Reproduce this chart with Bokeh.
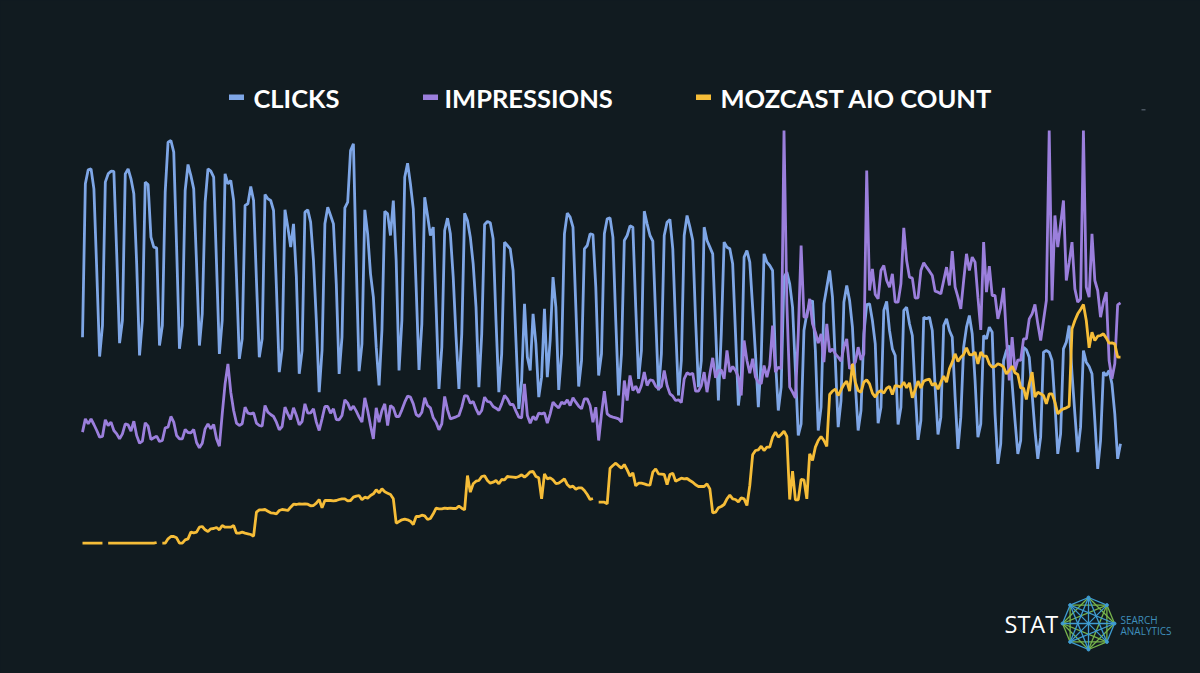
import numpy as np
from bokeh.plotting import figure
from bokeh.models import Range1d, Label, BoxAnnotation
from bokeh.embed import file_html
from bokeh.resources import INLINE

gap = float("nan")

# The chart has no value axis: values are read off the picture as depth below a
# fixed level (larger = lower on the plot), so the value range below is inverted.
clicks = [650,190,148,145,205,450,708,
615,185,160,152,153,400,668,
600,160,145,175,220,430,705,
600,185,192,350,380,382,675,
615,215,65,60,95,380,685,
615,210,132,165,205,430,675,
580,245,145,152,170,430,700,
600,160,190,180,240,470,715,
655,255,250,198,240,480,710,
655,222,235,240,270,500,755,
685,268,320,380,310,470,760,
690,275,268,305,420,600,815,
690,310,260,285,310,490,760,
650,262,245,90,70,430,752,
670,268,340,460,530,680,795,
630,272,280,345,240,420,750,
600,170,128,190,265,500,748,
610,230,285,345,320,560,805,
680,330,293,340,470,650,805,
640,278,300,350,430,560,800,
640,312,303,307,355,600,815,
700,365,375,385,450,660,865,
780,550,710,750,580,670,830,
770,565,770,660,470,560,808,
700,340,278,290,320,560,798,
720,385,375,340,342,500,765,
700,340,295,292,350,600,825,
700,360,345,316,320,560,775,
690,272,310,345,362,590,810,
700,345,305,297,385,620,825,
720,345,285,320,360,600,800,
720,320,360,380,400,620,840,
640,365,380,385,430,640,855,
780,410,390,425,560,700,860,
720,400,425,435,450,720,870,
800,470,455,490,560,750,945,
910,630,580,550,540,690,930,
860,550,500,450,530,720,920,
840,545,495,540,620,790,930,
870,640,552,550,600,670,908,
860,570,543,630,685,705,912,
860,570,560,610,645,810,958,
900,590,595,590,630,800,942,
890,615,595,630,650,830,985,
890,680,620,585,640,780,950,
910,645,655,620,635,880,1030,
970,720,690,675,790,900,1000,
960,680,688,710,820,930,1015,
950,695,690,695,720,850,1000,
940,685,665,615,760,880,995,
920,690,725,738,760,900,1045,
960,755,765,750,790,880,1015,
970]

impressions = [935,895,910,895,912,930,950,948,898,915,905,930,940,955,
940,910,913,932,902,945,968,962,907,917,957,952,947,963,
960,922,920,888,905,945,955,955,927,936,937,927,966,982,
968,925,910,925,912,955,977,880,790,730,815,870,908,915,
910,860,878,880,877,908,915,917,855,875,882,888,905,928,
918,860,880,897,862,885,913,903,850,878,877,865,905,930,
895,858,858,878,865,897,898,
885,838,848,868,857,872,890,905,832,870,915,955,862,905,
870,850,915,855,862,888,888,868,845,827,830,850,882,888,
875,832,855,862,892,905,928,910,828,868,895,892,889,885,
860,825,827,848,843,865,882,870,830,843,845,858,863,870,
850,825,835,852,852,872,890,892,790,885,908,888,898,878,
880,877,908,880,845,855,862,845,850,838,855,832,845,857,
865,835,835,855,905,860,960,
880,812,880,887,890,892,895,905,780,840,765,810,797,817,
795,755,795,778,780,797,805,798,750,795,820,827,840,838,
846,775,757,762,758,812,812,795,755,815,760,712,772,750,
748,775,690,755,738,750,770,825,660,720,758,715,770,785,
790,735,770,735,615,755,740,745,30,550,800,815,832,640,
375,590,590,535,610,635,668,640,725,610,695,685,700,710,
722,680,655,745,735,725,680,
718,700,150,510,445,522,535,450,435,480,500,460,545,545,
490,322,420,470,473,533,532,450,427,440,452,465,512,515,
520,480,440,495,392,500,530,565,480,400,450,410,425,530,
628,365,515,437,525,525,595,560,502,650,780,650,750,718,
720,655,655,595,580,552,610,660,600,540,30,540,285,380,
310,240,480,425,365,505,545,535,30,500,530,340,480,510,
590,545,515,720,775,730,553,547]

mozcast_aio = [1268,1268,1268,1268,1268,1268,1268,1268,gap,1268,1268,1268,1268,1268,
1268,1268,1268,1268,1268,1268,1268,1268,1268,1268,1268,1268,1266,gap,
1268,1268,1255,1248,1248,1252,1268,1268,1258,1255,1235,1237,1235,1220,
1218,1228,1233,1225,1224,1221,1228,1215,1220,1220,1220,1215,1238,1238,
1235,1238,1240,1242,1247,1175,1168,1168,1167,1172,1177,1178,1180,1170,
1167,1168,1170,1160,1151,1152,1150,1151,1150,1151,1156,1155,1148,1137,
1162,1140,1140,1140,1141,1140,1137,
1135,1135,1141,1140,1130,1127,1125,1138,1130,1133,1125,1120,1108,1117,
1105,1114,1118,1122,1135,1208,1203,1198,1196,1198,1202,1212,1188,1188,
1184,1186,1197,1194,1180,1163,1165,1165,1163,1164,1163,1164,1164,1157,
1163,1168,1065,1115,1090,1082,1080,1068,1066,1080,1088,1085,1080,1090,
1077,1078,1068,1069,1070,1071,1068,1063,1070,1063,1054,1053,1068,1072,
1135,1060,1075,1072,1078,1089,1088,1082,1075,1092,1100,1097,1106,1102,
1102,1110,1122,1137,1134,gap,1145,
1145,1145,1150,1043,1035,1028,1036,1043,1032,1048,1067,1057,1096,1088,
1088,1090,1093,1094,1055,1045,1060,1061,1062,1092,1062,1058,1082,1078,
1073,1075,1074,1080,1085,1093,1098,1098,1098,1090,1105,1177,1175,1162,
1158,1152,1135,1124,1135,1137,1144,1132,1135,1155,1095,1003,990,988,
977,990,980,980,950,935,950,942,932,948,1137,1052,1138,1138,
1077,1078,1135,1000,1020,980,960,948,960,978,822,812,806,825,
808,792,782,812,730,785,810,
815,785,778,790,818,830,815,810,818,803,798,822,795,797,
800,785,802,787,832,808,782,802,782,778,776,795,788,806,
785,767,785,745,725,700,723,710,702,682,702,703,695,730,
695,707,707,730,740,738,730,733,740,760,750,737,757,762,
802,803,837,790,755,830,815,820,825,850,820,820,845,880,
870,865,862,857,625,600,580,567,552,600,682,635,660,647,
645,640,652,668,667,670,710,710]

legend_labels = ["CLICKS", "IMPRESSIONS", "MOZCAST AIO COUNT"]
series_colors = ["#7ea6e6", "#9b7fdc", "#f6bd38"]
logo_word = "STAT"
logo_sub = ["SEARCH", "ANALYTICS"]

assert len(clicks) == len(impressions) == len(mozcast_aio) == 365, (len(clicks), len(impressions), len(mozcast_aio))

BG = "#111b20"
W, H = 1200, 673
days = np.arange(365)
step = 1038 / 364
# plot spans x=82..1120 of the window; the body margin is set to 0 below
x0 = -82 / step
x1 = x0 + W / step
# 3 value units per window pixel, value 0 at y=120 of the window
y_bottom = (H - 120) * 3
y_top = (0 - 120) * 3

p = figure(width=W, height=H, output_backend="svg", toolbar_location=None,
           x_range=Range1d(x0, x1), y_range=Range1d(y_bottom, y_top),
           min_border=0, background_fill_color=BG, border_fill_color=BG,
           outline_line_color=None)
p.axis.visible = False
p.xgrid.visible = False
p.ygrid.visible = False
# window-pixel ranges for the decoration (legend and logo)
p.extra_x_ranges["px"] = Range1d(0, W)
p.extra_y_ranges["py"] = Range1d(H, 0)

for vals, col in zip([clicks, impressions, mozcast_aio], series_colors):
    p.line(days, np.array(vals, dtype=float), line_color=col, line_width=2.8, line_join="bevel")

# legend
FONT = "Lato"
for lab, col, bx, tx in zip(legend_labels, series_colors, [228.5, 422.5, 695.5], [253, 444, 720]):
    p.add_layout(BoxAnnotation(left=bx, right=bx + 15, top=94, bottom=99.5,
                               x_range_name="px", y_range_name="py",
                               fill_color=col, fill_alpha=1, line_color=None))
    p.add_layout(Label(x=tx, y=97, text=lab, x_range_name="px", y_range_name="py",
                       text_font=FONT, text_font_style="bold", text_font_size="25.5px",
                       text_color="#ffffff", text_baseline="middle"))

# stray mark at the top right of the reference
p.add_layout(BoxAnnotation(left=1141, right=1145, top=108.5, bottom=110, x_range_name="px",
                           y_range_name="py", fill_color="#4a5560", fill_alpha=1, line_color=None))

# logo
cx, cy, r = 1088, 623, 26
ang = np.deg2rad(np.arange(8) * 45 - 90)
vx = cx + r * np.cos(ang)
vy = cy + r * np.sin(ang)
blue, green = [[], []], [[], []]
for a in range(8):
    for b in range(a + 1, 8):
        d = min(b - a, 8 - (b - a))
        t = blue if d in (1, 3) and (a % 2 == 0) or d == 4 else green
        t[0].append([vx[a], vx[b]])
        t[1].append([vy[a], vy[b]])
p.multi_line(green[0], green[1], line_color="#77b54c", line_width=1.3, x_range_name="px", y_range_name="py")
p.multi_line(blue[0], blue[1], line_color="#3f9dd2", line_width=1.3, x_range_name="px", y_range_name="py")
p.scatter(np.append(vx, cx), np.append(vy, cy), size=3, color="#3f9dd2", x_range_name="px", y_range_name="py")
p.add_layout(Label(x=1004, y=623, text=logo_word, x_range_name="px", y_range_name="py",
                   text_font="Open Sans", text_font_size="23.5px", text_color="#ffffff",
                   text_baseline="middle"))
for s, yy in zip(logo_sub, [619, 630]):
    p.add_layout(Label(x=1120, y=yy, text=s, x_range_name="px", y_range_name="py",
                       text_font="Open Sans", text_font_size="10px", text_color="#3f8fbb",
                       text_baseline="middle"))

html = file_html(p, INLINE)
html = html.replace("<head>", "<head><style>html,body{background:%s;margin:0;padding:0;overflow:hidden;}</style>" % BG, 1)
open("out.html", "w").write(html)
